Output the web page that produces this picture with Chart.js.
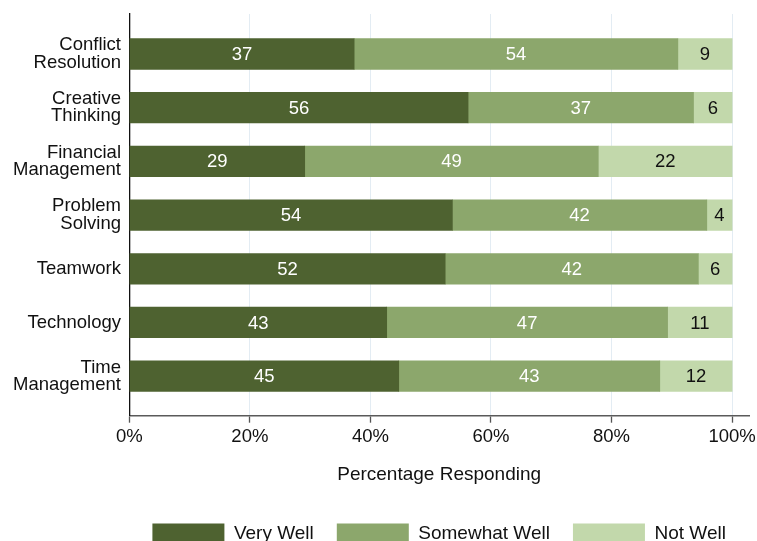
<!DOCTYPE html>
<html>
<head>
<meta charset="utf-8">
<script src="https://cdn.jsdelivr.net/npm/chart.js@4/dist/chart.umd.min.js"></script>
<style>
  html, body { margin: 0; padding: 0; background: #ffffff; overflow: hidden; }
  #wrap { width: 757px; height: 556px; }
</style>
</head>
<body>
<div id="wrap"><canvas id="c" width="757" height="556"></canvas></div>
<script>
// ---- data ----
const categories = [
  ['Conflict', 'Resolution'],
  ['Creative', 'Thinking'],
  ['Financial', 'Management'],
  ['Problem', 'Solving'],
  ['Teamwork'],
  ['Technology'],
  ['Time', 'Management']
];
const seriesNames = ['Very Well', 'Somewhat Well', 'Not Well'];
const veryWell     = [37.3, 56.2, 29.1, 53.6, 52.4, 42.7, 44.7];
const somewhatWell = [53.7, 37.4, 48.7, 42.2, 42.0, 46.6, 43.3];
const notWell      = [9.0, 6.4, 22.2, 4.2, 5.6, 10.7, 12.0];
const xTicks = [0, 20, 40, 60, 80, 100];

// ---- styles ----
const FONT = "'Liberation Sans', Arial, Helvetica, sans-serif";
const colors = ['#4e6230', '#8ca76c', '#c2d8ab'];
const labelColors = ['#ffffff', '#ffffff', '#111111'];

const toPoints = arr => arr.map((v, i) => ({ x: v, y: i }));

const valueLabels = {
  id: 'valueLabels',
  afterDatasetsDraw(chart) {
    const ctx = chart.ctx;
    ctx.save();
    ctx.font = '18.5px ' + FONT;
    ctx.textAlign = 'center';
    ctx.textBaseline = 'middle';
    chart.data.datasets.forEach((ds, di) => {
      const meta = chart.getDatasetMeta(di);
      ctx.fillStyle = labelColors[di];
      meta.data.forEach((bar, i) => {
        const v = ds.data[i].x;
        const cx = (bar.x + bar.base) / 2;
        ctx.fillText(String(Math.round(v)), cx, bar.y + 1);
      });
    });
    ctx.restore();
  }
};

new Chart(document.getElementById('c'), {
  type: 'bar',
  data: {
    datasets: [
      { label: seriesNames[0], data: toPoints(veryWell), backgroundColor: colors[0], borderWidth: 0 },
      { label: seriesNames[1], data: toPoints(somewhatWell), backgroundColor: colors[1], borderWidth: 0 },
      { label: seriesNames[2], data: toPoints(notWell), backgroundColor: colors[2], borderWidth: 0 }
    ]
  },
  options: {
    indexAxis: 'y',
    responsive: false,
    animation: false,
    devicePixelRatio: 1,
    barThickness: 30.6,
    layout: { padding: { left: 0, right: 8, top: 14, bottom: 1.5 } },
    scales: {
      x: {
        type: 'linear',
        stacked: true,
        min: 0,
        max: 102.8,
        offset: false,
        afterBuildTicks: s => { s.ticks = xTicks.map(v => ({ value: v })); },
        ticks: {
          color: '#111111',
          font: { family: FONT, size: 18.5 },
          padding: 3,
          maxRotation: 0,
          autoSkip: false,
          callback: v => v + '%'
        },
        grid: {
          color: '#e3ecf3',
          lineWidth: 1,
          offset: false,
          tickColor: '#555555',
          tickLength: 7,
          tickWidth: 1.3
        },
        border: { display: true, color: '#5a5a5a', width: 1.5 },
        title: {
          display: true,
          text: 'Percentage Responding',
          color: '#111111',
          font: { family: FONT, size: 19 },
          padding: { top: 0, bottom: 14 }
        },
        afterFit: s => { s.height = 84.8; s.paddingLeft = 0; s.paddingRight = 0; }
      },
      y: {
        type: 'linear',
        stacked: true,
        reverse: true,
        offset: false,
        bounds: 'data',
        min: -0.745,
        max: 6.736,
        afterBuildTicks: s => { s.ticks = categories.map((c, i) => ({ value: i })); },
        ticks: {
          color: '#111111',
          font: { family: FONT, size: 18.5, lineHeight: 0.94 },
          padding: 8.3,
          autoSkip: false,
          includeBounds: false,
          callback: v => categories[v] || ''
        },
        grid: { display: false, drawTicks: false, tickLength: 0, offset: false },
        border: { display: true, color: '#111111', width: 1.3 },
        afterFit: s => { s.width = 129.3; s.paddingTop = 0; s.paddingBottom = 0; }
      }
    },
    plugins: {
      legend: {
        position: 'bottom',
        fullSize: false,
        labels: {
          boxWidth: 72,
          boxHeight: 21,
          padding: 23,
          color: '#111111',
          font: { family: FONT, size: 19 }
        }
      },
      tooltip: { enabled: false }
    }
  },
  plugins: [valueLabels]
});
</script>
</body>
</html>
